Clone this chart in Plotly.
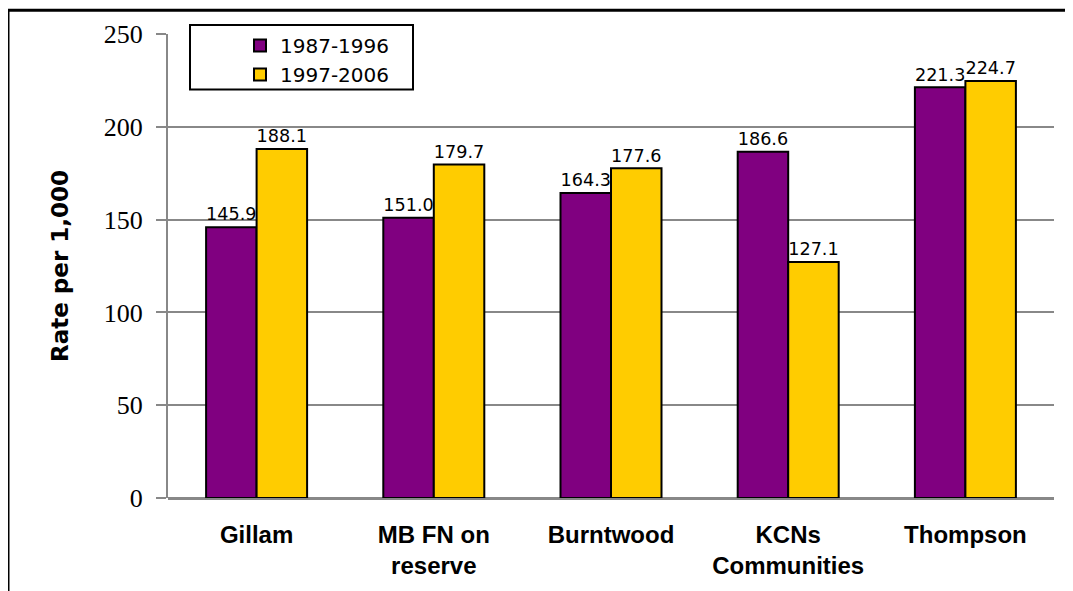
import plotly.graph_objects as go

categories = ["Gillam", "MB FN on<br>reserve", "Burntwood", "KCNs<br>Communities", "Thompson"]
series_1987 = [145.9, 151.0, 164.3, 186.6, 221.3]
series_1997 = [188.1, 179.7, 177.6, 127.1, 224.7]
series_names = ["1987-1996", "1997-2006"]
y_ticks = [0, 50, 100, 150, 200, 250]

# page has an 8px body margin; work in page coordinates and convert
OFF = 8
W, H = 1073 - OFF, 591 - OFF
L, R, T, B = 168 - OFF, 19, 34 - OFF, 97 - OFF
pw, ph = W - L - R, H - T - B

def px_x(x):
    return (x - OFF - L) / pw

def px_y(y):
    return 1 - (y - OFF - T) / ph

fig = go.Figure()
for name, vals, col in [(series_names[0], series_1987, "#800080"),
                        (series_names[1], series_1997, "#FFCC00")]:
    fig.add_trace(go.Bar(
        x=categories, y=vals, name=name,
        marker=dict(color=col, line=dict(color="black", width=2)),
        text=[f"{v:.1f}" for v in vals], textposition="outside",
        textfont=dict(family="DejaVu Sans", size=19, color="black"),
        cliponaxis=False,
    ))

fig.update_layout(
    width=W, height=H,
    margin=dict(l=L, r=R, t=T, b=B),
    plot_bgcolor="white", paper_bgcolor="white",
    barmode="group", bargap=0.43, bargroupgap=0,
    showlegend=True,
    legend=dict(x=px_x(240), y=px_y(26), xanchor="left", yanchor="top",
                bgcolor="rgba(0,0,0,0)", borderwidth=0,
                font=dict(family="DejaVu Sans", size=20, color="black"),
                tracegroupgap=2),
    xaxis=dict(showline=False, showgrid=False, ticks="",
               tickfont=dict(family="Liberation Sans", size=24, color="black", weight="bold"),
               ticklabelstandoff=20),
    yaxis=dict(range=[0, 250], tickvals=y_ticks, showgrid=True, gridcolor="#888888", gridwidth=2,
               showline=True, linecolor="#888888", linewidth=2,
               ticks="outside", ticklen=10, tickcolor="#888888", tickwidth=2,
               tickfont=dict(family="Liberation Serif", size=26, color="black"),
               ticklabelstandoff=8,
               zeroline=True, zerolinecolor="#888888", zerolinewidth=3,
               title=dict(text="Rate per 1,000", standoff=29,
                          font=dict(family="DejaVu Sans", size=23, color="black", weight="bold"))),
    shapes=[
        dict(type="rect", xref="paper", yref="paper",
             x0=px_x(190), x1=px_x(413), y0=px_y(90), y1=px_y(25),
             line=dict(color="black", width=2), fillcolor="white", layer="below"),
        dict(type="line", xref="paper", yref="paper",
             x0=px_x(8), x1=px_x(1080), y0=px_y(10), y1=px_y(10),
             line=dict(color="black", width=3)),
        dict(type="line", xref="paper", yref="paper",
             x0=px_x(8), x1=px_x(8), y0=px_y(10), y1=px_y(600),
             line=dict(color="black", width=3)),
    ],
)

fig.write_html("out.html")
